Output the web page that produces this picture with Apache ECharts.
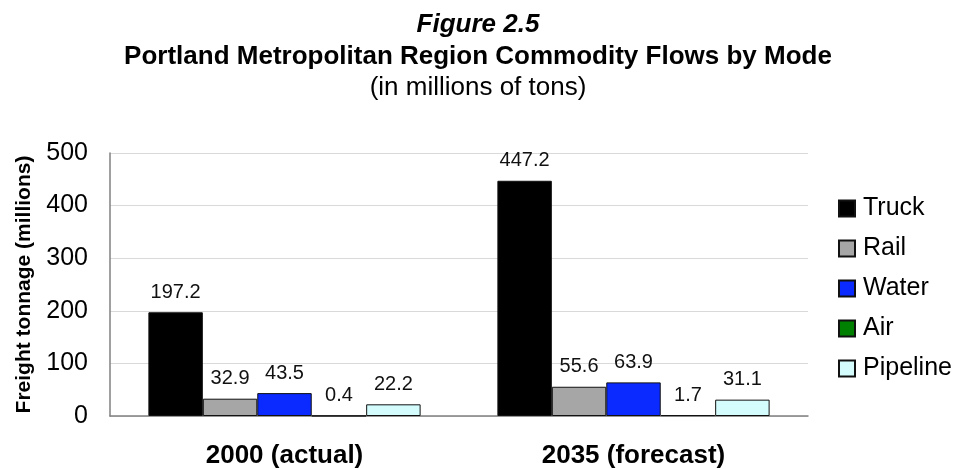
<!DOCTYPE html>
<html>
<head>
<meta charset="utf-8">
<script src="https://cdn.jsdelivr.net/npm/echarts@6/dist/echarts.min.js"></script>
<style>
  html, body { margin: 0; padding: 0; background: #fff; }
  #chart { width: 956px; height: 469px; }
</style>
</head>
<body>
<div id="chart"></div>
<script>
// Commodity flows by mode, millions of tons
const categories = ['2000 (actual)', '2035 (forecast)'];
const modes = ['Truck', 'Rail', 'Water', 'Air', 'Pipeline'];
const truck = [197.2, 447.2];
const rail = [32.9, 55.6];
const water = [43.5, 63.9];
const air = [0.4, 1.7];
const pipeline = [22.2, 31.1];
const yTicks = [0, 100, 200, 300, 400, 500];

const modeValues = [truck, rail, water, air, pipeline];
const modeColors = ['#000000', '#a6a6a6', '#0a2aff', '#008000', '#d4fcfd'];

const font = 'Liberation Sans, Arial, sans-serif';

const chart = echarts.init(document.getElementById('chart'), null, { renderer: 'canvas' });

chart.setOption({
  animation: false,
  backgroundColor: '#ffffff',
  title: [
    {
      text: 'Figure 2.5',
      left: 'center', top: 7,
      textStyle: { fontFamily: font, fontSize: 26, lineHeight: 26, fontWeight: 'bold', fontStyle: 'italic', color: '#000' }
    },
    {
      text: 'Portland Metropolitan Region Commodity Flows by Mode',
      left: 'center', top: 39,
      textStyle: { fontFamily: font, fontSize: 26, lineHeight: 26, fontWeight: 'bold', color: '#000' }
    },
    {
      text: '(in millions of tons)',
      left: 'center', top: 70,
      textStyle: { fontFamily: font, fontSize: 26, lineHeight: 26, fontWeight: 'normal', color: '#000' }
    }
  ],
  legend: {
    orient: 'vertical',
    left: 838, top: 196, padding: 0,
    itemWidth: 16, itemHeight: 16, itemGap: 15,
    icon: 'rect',
    data: modes,
    textStyle: { fontFamily: font, fontSize: 25, lineHeight: 25, color: '#000', padding: [0, 0, 0, 3] }
  },
  grid: { left: 110, right: 148, top: 153, bottom: 52, containLabel: false },
  xAxis: {
    type: 'category',
    data: categories,
    axisLine: { show: true, lineStyle: { color: '#808080', width: 1.5 } },
    axisTick: { show: false },
    axisLabel: { fontFamily: font, fontSize: 26, fontWeight: 'bold', color: '#000', margin: 27 }
  },
  yAxis: {
    type: 'value',
    min: yTicks[0], max: yTicks[yTicks.length - 1], interval: yTicks[1] - yTicks[0],
    name: 'Freight tonnage (millions)',
    nameLocation: 'middle',
    nameGap: 75,
    nameTextStyle: { fontFamily: font, fontSize: 21, fontWeight: 'bold', color: '#000' },
    axisLine: { show: true, lineStyle: { color: '#808080', width: 1.5 } },
    axisTick: { show: false },
    axisLabel: { fontFamily: font, fontSize: 25, color: '#000', margin: 22 },
    splitLine: { show: true, lineStyle: { color: '#d9d9d9', width: 1 } }
  },
  series: modes.map((name, i) => ({
    name: name,
    type: 'bar',
    data: modeValues[i],
    barGap: '0%',
    barCategoryGap: '22%',
    itemStyle: { color: modeColors[i], borderColor: '#111', borderWidth: 1 },
    label: {
      show: true,
      position: 'top',
      distance: 10,
      fontFamily: font,
      fontSize: 20,
      color: '#111',
      formatter: p => p.value.toFixed(1)
    }
  }))
});
</script>
</body>
</html>
